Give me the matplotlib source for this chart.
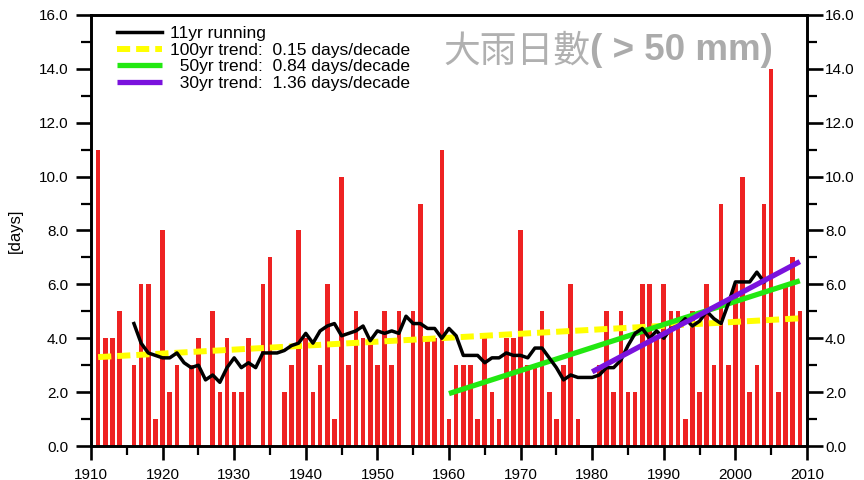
import numpy as np
import pandas as pd
import matplotlib
matplotlib.use("Agg")
import matplotlib.pyplot as plt
from matplotlib.ticker import MultipleLocator, FormatStrFormatter

plt.rcParams['font.family'] = ['Liberation Sans', 'DejaVu Sans']

# heavy rain days (> 50 mm) per year, 1911-2009
years = np.arange(1911, 2010)
days = [11, 4, 4, 5, 0, 3, 6, 6, 1, 8,
        2, 3, 0, 3, 4, 0, 5, 2, 4, 2,
        2, 4, 0, 6, 7, 0, 2, 3, 8, 4,
        2, 3, 6, 1, 10, 3, 5, 4, 4, 3,
        5, 3, 5, 0, 5, 9, 4, 4, 11, 1,
        3, 3, 3, 1, 4, 2, 1, 4, 4, 8,
        3, 3, 5, 2, 1, 3, 6, 1, 0, 0,
        3, 5, 2, 5, 2, 2, 6, 6, 4, 6,
        5, 5, 1, 5, 2, 6, 3, 9, 3, 6,
        10, 2, 3, 9, 14, 2, 6, 7, 5]

trend_starts = [1911, 1960, 1980]
labels = ["11yr running",
          "100yr trend:  0.15 days/decade",
          "  50yr trend:  0.84 days/decade",
          "  30yr trend:  1.36 days/decade"]

s = pd.Series(days, index=years)
running = s.rolling(11, center=True).mean()

fig = plt.figure(figsize=(8.64, 4.8), dpi=100)
ax = fig.add_axes([0.1053, 0.0708, 0.8287, 0.898])

ax.bar(years, days, width=0.64, color="#ee2222", zorder=1)


def trend(start):
    seg = s[s.index >= start]
    k, b = np.polyfit(seg.index, seg.values, 1)
    xs = np.array([seg.index[0], seg.index[-1]])
    return xs, k * xs + b


x1, y1 = trend(trend_starts[0])
x2, y2 = trend(trend_starts[1])
x3, y3 = trend(trend_starts[2])

h_yel, = ax.plot(x1, y1, color="#ffff00", lw=4.3, ls=(0, (2.2, 1.0)), zorder=2)
h_grn, = ax.plot(x2, y2, color="#22e811", lw=3.8, zorder=3, solid_capstyle="butt")
h_blk, = ax.plot(running.index, running.values, color="black", lw=2.5, zorder=4)
h_pur, = ax.plot(x3, y3, color="#7a12dd", lw=3.8, zorder=5, solid_capstyle="butt")

ax.legend([h_blk, h_yel, h_grn, h_pur], labels, loc="upper left", frameon=False,
          fontsize=12.5, labelspacing=0.08, handlelength=2.6, handletextpad=0.45,
          borderaxespad=0.25, bbox_to_anchor=(0.02, 1.0))

ax.set_xlim(1910, 2010)
ax.set_ylim(0, 16)
ax.xaxis.set_major_locator(MultipleLocator(10))
ax.xaxis.set_minor_locator(MultipleLocator(5))
ax.yaxis.set_major_locator(MultipleLocator(2))
ax.yaxis.set_minor_locator(MultipleLocator(1))
ax.yaxis.set_major_formatter(FormatStrFormatter("%.1f"))

for sp in ax.spines.values():
    sp.set_linewidth(1.9)

ax.tick_params(axis="x", which="major", length=10, width=1.9, labelsize=11, pad=6)
ax.tick_params(axis="x", which="minor", length=6.5, width=1.6)
ax.tick_params(axis="y", which="major", length=10.5, width=1.9, labelsize=11, pad=6)
ax.tick_params(axis="y", which="minor", length=7, width=1.6)
ax.set_ylabel("[days]", fontsize=12, labelpad=11)

ax2 = ax.twinx()
ax2.set_ylim(0, 16)
ax2.yaxis.set_major_locator(MultipleLocator(2))
ax2.yaxis.set_minor_locator(MultipleLocator(1))
ax2.yaxis.set_major_formatter(FormatStrFormatter("%.1f"))
ax2.tick_params(axis="y", which="major", length=11.5, width=1.9, labelsize=11, pad=1.5)
ax2.tick_params(axis="y", which="minor", length=7, width=1.6)
for sp in ax2.spines.values():
    sp.set_linewidth(1.9)

fig.text(590 / 864, 1 - 51 / 480, "大雨日數", ha="right", va="center",
         fontsize=26.5, color="#b0b0b0", family=["Noto Sans CJK TC", "DejaVu Sans"])
fig.text(590 / 864, 1 - 51 / 480, "( > 50 mm)", ha="left", va="center",
         fontsize=26.5, color="#ababab", fontweight="bold")

fig.savefig("out.png", dpi=100)
